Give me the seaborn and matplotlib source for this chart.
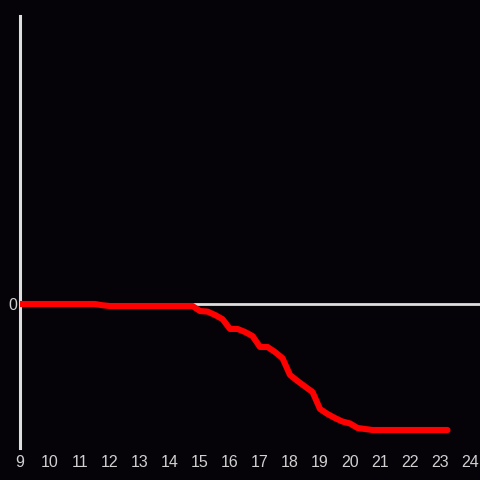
import numpy as np
import pandas as pd
import seaborn as sns
import matplotlib
matplotlib.use("Agg")
import matplotlib.pyplot as plt

# saat (x) ve degerler (y), 15 dakikalik adimlar
hours = [9.0, 9.25, 9.5, 9.75, 10.0, 10.25, 10.5, 10.75, 11.0, 11.25, 11.5,
         11.75, 12.0, 12.25, 12.5, 12.75, 13.0, 13.25, 13.5, 13.75, 14.0,
         14.25, 14.5, 14.75, 15.0, 15.25, 15.5, 15.75, 16.0, 16.25, 16.5,
         16.75, 17.0, 17.25, 17.5, 17.75, 18.0, 18.25, 18.5, 18.75, 19.0,
         19.25, 19.5, 19.75, 20.0, 20.25, 20.5, 20.75, 21.0, 21.25, 21.5,
         21.75, 22.0, 22.25, 22.5, 22.75, 23.0, 23.25]
values = [0, 0, 0, 0, 0, 0, 0, 0, 0, 0, 0,
          -0.01, -0.016, -0.016, -0.016, -0.016, -0.016, -0.016, -0.016, -0.016, -0.016,
          -0.016, -0.016, -0.016, -0.056, -0.06, -0.087, -0.12, -0.198, -0.198, -0.222,
          -0.254, -0.341, -0.341, -0.381, -0.43, -0.563, -0.611, -0.655, -0.698, -0.833,
          -0.873, -0.905, -0.933, -0.948, -0.984, -0.992, -1.0, -1.0, -1.0, -1.0,
          -1.0, -1.0, -1.0, -1.0, -1.0, -1.0, -1.0]
xticks = list(range(9, 25))

df = pd.DataFrame({"hour": hours, "value": values})

bg = "#050308"
fg = "#dedede"

sns.set_style("dark")
plt.rcParams['font.family'] = ['Liberation Sans', 'DejaVu Sans']

fig = plt.figure(figsize=(4.8, 4.8), dpi=100, facecolor=bg)
ax = fig.add_axes([20 / 480, 32 / 480, 460 / 480, 432 / 480])
ax.set_facecolor(bg)

ax.axhline(0, color=fg, lw=2.0, zorder=1)
sns.lineplot(data=df, x="hour", y="value", ax=ax, color="#ff0000", lw=4.4, zorder=3)

ax.set_xlim(9, 9 + 460 / 30)
ax.set_ylim((304 - 448) / 126, (304 - 16) / 126)
ax.set_xticks(xticks)
ax.set_yticks([0])
ax.set_xlabel("")
ax.set_ylabel("")
ax.grid(False)

for s in ["top", "right", "bottom"]:
    ax.spines[s].set_visible(False)
ax.spines["left"].set_visible(True)
ax.spines["left"].set_color(fg)
ax.spines["left"].set_linewidth(2.2)

ax.tick_params(axis="both", length=0, colors="#d0d0d0", labelsize=11.5)
ax.tick_params(axis="x", pad=5)
ax.tick_params(axis="y", pad=2)

fig.savefig("out.png", dpi=100, facecolor=bg)
